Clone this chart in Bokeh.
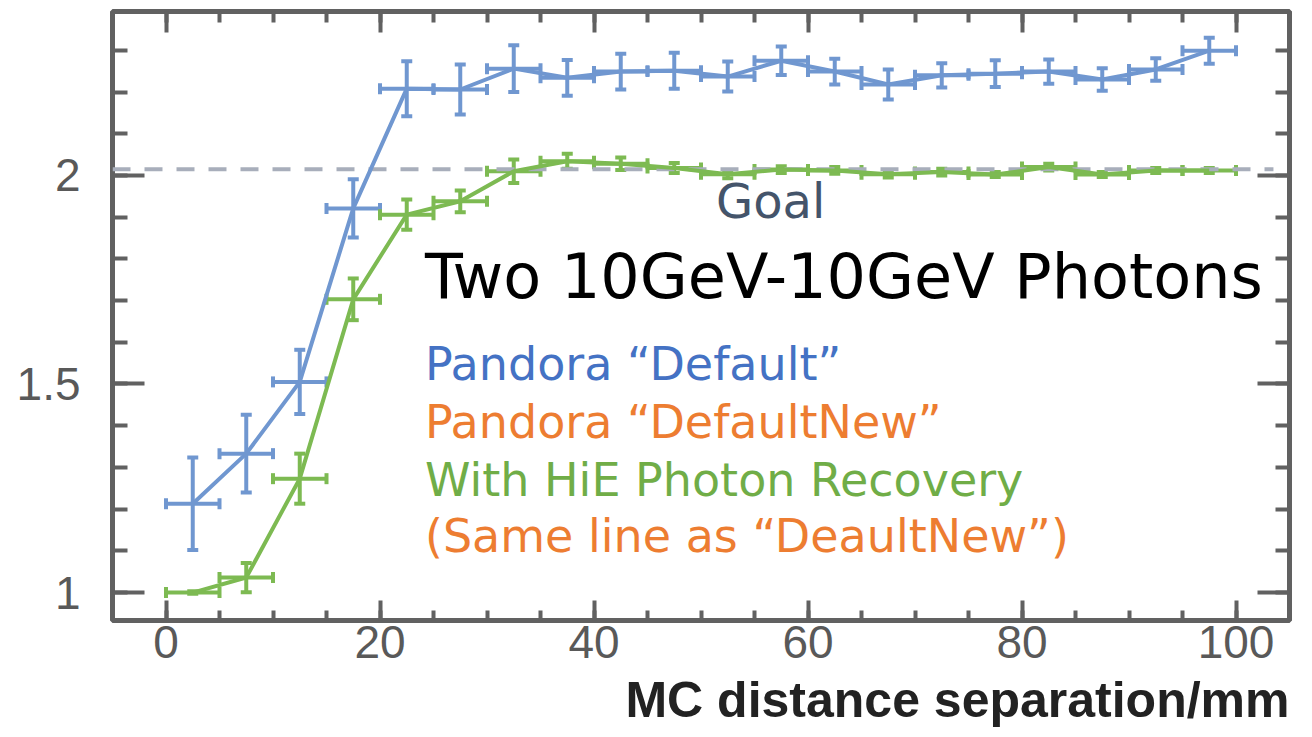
from bokeh.plotting import figure
from bokeh.models import (ColumnDataSource, Whisker, TeeHead, Label, LinearAxis,
                          FixedTicker, Range1d, Title)
from bokeh.embed import file_html
from bokeh.resources import INLINE

# ---------------- data ----------------
X_CENTERS = [2.5, 7.5, 12.5, 17.5, 22.5, 27.5, 32.5, 37.5, 42.5, 47.5,
             52.5, 57.5, 62.5, 67.5, 72.5, 77.5, 82.5, 87.5, 92.5, 97.5]
X_HALF_WIDTH = [2.5] * 20

DEFAULT_Y = [1.213, 1.333, 1.505, 1.921, 2.208, 2.206, 2.256, 2.234, 2.249, 2.251,
             2.237, 2.275, 2.249, 2.218, 2.240, 2.244, 2.249, 2.230, 2.254, 2.299]
DEFAULT_ERR = [0.111, 0.093, 0.077, 0.070, 0.066, 0.060, 0.056, 0.043, 0.043, 0.043,
               0.036, 0.034, 0.031, 0.036, 0.029, 0.032, 0.029, 0.027, 0.027, 0.031]

HIE_Y = [1.000, 1.036, 1.273, 1.703, 1.906, 1.938, 2.010, 2.034, 2.028, 2.018,
         2.003, 2.014, 2.012, 2.003, 2.008, 2.002, 2.020, 2.002, 2.012, 2.012]
HIE_ERR = [0.003, 0.035, 0.060, 0.050, 0.036, 0.026, 0.028, 0.018, 0.015, 0.012,
           0.010, 0.008, 0.008, 0.008, 0.008, 0.006, 0.008, 0.006, 0.006, 0.006]

GOAL = 2.015
GOAL_X = [-5, 103.5]

X_TICKS = [0, 20, 40, 60, 80, 100]
X_MINOR = [0, 5, 10, 15, 20, 25, 30, 35, 40, 45, 50, 55, 60, 65, 70, 75, 80,
           85, 90, 95, 100, 105]
Y_TICKS = [1, 1.5, 2]
Y_TICK_LABELS = ["1", "1.5", "2"]
Y_MINOR = [1.0, 1.1, 1.2, 1.3, 1.4, 1.5, 1.6, 1.7, 1.8, 1.9, 2.0, 2.1, 2.2, 2.3]

X_TITLE = "MC distance separation/mm"
TITLE = "Two 10GeV-10GeV Photons"
LEGEND_LINES = ["Pandora \u201cDefault\u201d", "Pandora \u201cDefaultNew\u201d",
                "With HiE Photon Recovery", "(Same line as \u201cDeaultNew\u201d)"]

# ---------------- style ----------------
BLUE = "#7097d0"
GREEN = "#7dba52"
AXIS = "#616161"
TICKLAB = "#595959"

p = figure(width=1312, height=737, x_range=Range1d(-5, 105), y_range=Range1d(0.933, 2.393),
           output_backend="svg", toolbar_location=None,
           min_border_left=112, min_border_right=23, min_border_top=11, min_border_bottom=117)
p.xgrid.visible = False
p.ygrid.visible = False
p.background_fill_color = "white"
p.border_fill_color = "white"
p.outline_line_color = AXIS
p.outline_line_width = 5
p.outline_line_alpha = 1.0

# bottom axis
xa = p.xaxis[0]
xa.ticker = FixedTicker(ticks=X_TICKS, minor_ticks=X_MINOR)
xa.axis_line_color = None
xa.major_tick_in = 20
xa.major_tick_out = 0
xa.minor_tick_in = 10
xa.minor_tick_out = 0
xa.major_tick_line_width = 4
xa.minor_tick_line_width = 4
xa.major_tick_line_color = AXIS
xa.minor_tick_line_color = AXIS
xa.major_label_text_font = "Liberation Sans"
xa.major_label_text_font_size = "46px"
xa.major_label_text_color = TICKLAB
xa.major_label_standoff = 5

# left axis
ya = p.yaxis[0]
ya.ticker = FixedTicker(ticks=Y_TICKS, minor_ticks=Y_MINOR)
ya.major_label_overrides = {t: l for t, l in zip(Y_TICKS, Y_TICK_LABELS)}
ya.axis_line_color = None
ya.major_tick_in = 32
ya.major_tick_out = 0
ya.minor_tick_in = 15
ya.minor_tick_out = 0
ya.major_tick_line_width = 4
ya.minor_tick_line_width = 4
ya.major_tick_line_color = AXIS
ya.minor_tick_line_color = AXIS
ya.major_label_text_font = "Liberation Sans"
ya.major_label_text_font_size = "46px"
ya.major_label_text_color = TICKLAB
ya.major_label_standoff = 32

# top axis (ticks only)
ta = LinearAxis(ticker=FixedTicker(ticks=X_TICKS, minor_ticks=X_MINOR),
                axis_line_color=None, major_tick_in=21, major_tick_out=0,
                minor_tick_in=11, minor_tick_out=0, major_tick_line_width=4,
                minor_tick_line_width=4, major_tick_line_color=AXIS,
                minor_tick_line_color=AXIS, major_label_text_font_size="1px",
                major_label_overrides={t: "" for t in X_TICKS},
                major_label_standoff=0)
p.add_layout(ta, "above")

# right axis (ticks only)
ra = LinearAxis(ticker=FixedTicker(ticks=Y_TICKS, minor_ticks=Y_MINOR),
                axis_line_color=None, major_tick_in=32, major_tick_out=0,
                minor_tick_in=14, minor_tick_out=0, major_tick_line_width=4,
                minor_tick_line_width=4, major_tick_line_color=AXIS,
                minor_tick_line_color=AXIS, major_label_text_font_size="1px",
                major_label_overrides={t: "" for t in Y_TICKS},
                major_label_standoff=0)
p.add_layout(ra, "right")

# x-axis title, right aligned under the frame
p.add_layout(Title(text=X_TITLE, align="right", text_font="Liberation Sans",
                   text_font_style="bold", text_font_size="50px", text_color="#222222",
                   standoff=19, offset=0), "below")

# goal line
p.line(GOAL_X, [GOAL, GOAL], line_color="#a8aebb", line_width=4, line_dash="18 14")


def series(ys, errs, color):
    src = ColumnDataSource(dict(
        x=X_CENTERS, y=ys,
        ylo=[v - e for v, e in zip(ys, errs)], yhi=[v + e for v, e in zip(ys, errs)],
        xlo=[c - h for c, h in zip(X_CENTERS, X_HALF_WIDTH)],
        xhi=[c + h for c, h in zip(X_CENTERS, X_HALF_WIDTH)],
    ))
    p.line("x", "y", source=src, line_color=color, line_width=4)
    for dim, base, lo, hi in (("height", "x", "ylo", "yhi"), ("width", "y", "xlo", "xhi")):
        w = Whisker(source=src, base=base, lower=lo, upper=hi, dimension=dim,
                    line_color=color, line_width=4,
                    lower_head=TeeHead(size=11, line_color=color, line_width=4),
                    upper_head=TeeHead(size=11, line_color=color, line_width=4))
        p.add_layout(w)


series(DEFAULT_Y, DEFAULT_ERR, BLUE)
series(HIE_Y, HIE_ERR, GREEN)

# texts
p.add_layout(Label(x=51.4, y=1.938, text="Goal", text_font="DejaVu Sans",
                   text_font_size="48px", text_color="#44546a", text_baseline="alphabetic"))
p.add_layout(Label(x=24.2, y=1.758, text=TITLE, text_font="DejaVu Sans",
                   text_font_size="62px", text_color="black", text_baseline="alphabetic"))
leg_colors = ["#4472c4", "#ed7d31", "#70ad47", "#ed7d31"]
leg_y = [1.549, 1.410, 1.269, 1.135]
for txt, col, yy in zip(LEGEND_LINES, leg_colors, leg_y):
    p.add_layout(Label(x=24.2, y=yy, text=txt, text_font="DejaVu Sans",
                       text_font_size="46px", text_color=col, text_baseline="alphabetic"))

open("out.html", "w").write(file_html(p, INLINE))
